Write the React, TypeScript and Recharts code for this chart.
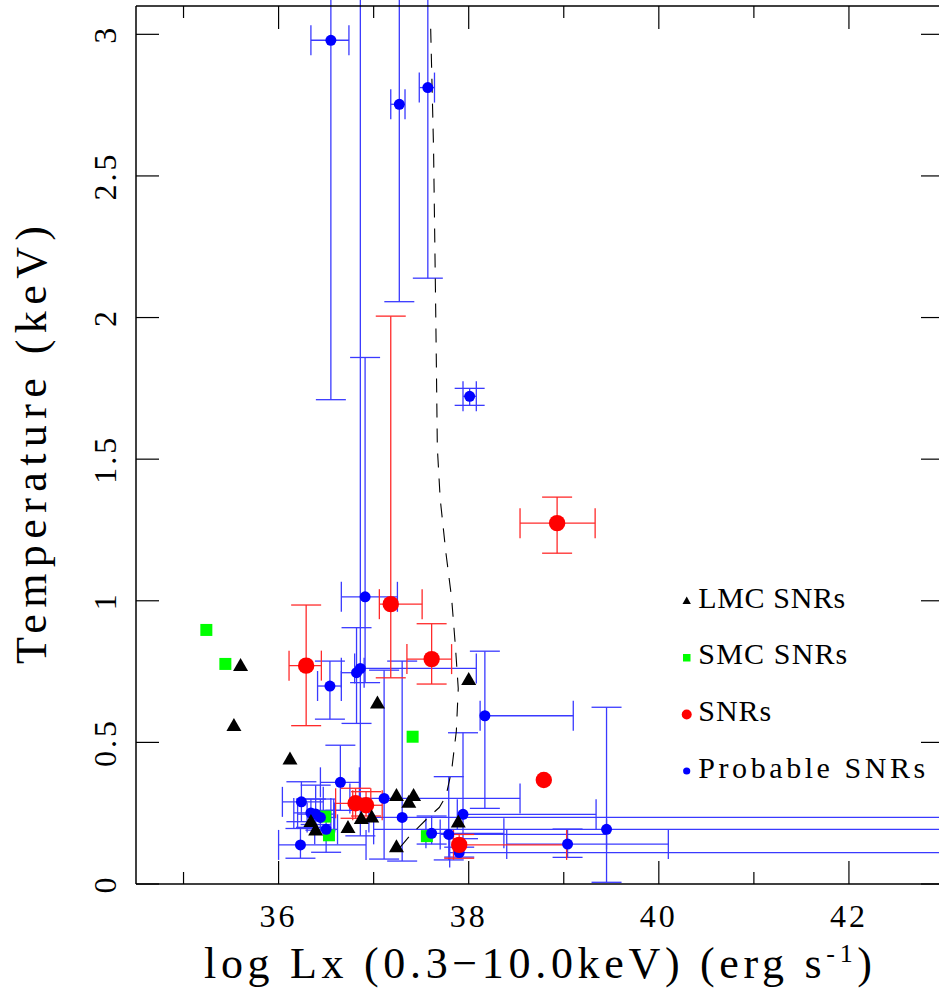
import React from "react";
import { ScatterChart, Scatter, XAxis, YAxis, ErrorBar, Legend } from "recharts";

const X_TICKS = [35, 36, 37, 38, 39, 40, 41, 42];
const Y_TICKS = [0, 0.5, 1, 1.5, 2, 2.5, 3];

// [log Lx, kT]
const LMC = [
  [35.6, 0.773], [35.53, 0.561], [36.12, 0.443], [37.04, 0.641], [38.0, 0.724],
  [36.34, 0.222], [36.39, 0.192], [36.73, 0.201], [36.87, 0.233], [36.98, 0.238],
  [37.24, 0.314], [37.37, 0.29], [37.42, 0.314], [37.24, 0.133], [37.89, 0.221],
];
const SMC = [
  [35.24, 0.897], [35.44, 0.777], [37.41, 0.52], [36.49, 0.238], [36.53, 0.172], [37.56, 0.169],
];
// [log Lx, kT, Lx low, Lx high, kT low, kT high]
const SNR = [
  [36.29, 0.771, 36.11, 36.45, 0.559, 0.985],
  [37.18, 0.988, 37.06, 37.51, 0.728, 2.005],
  [37.61, 0.794, 37.35, 37.82, 0.706, 0.919],
  [38.93, 1.274, 38.54, 39.33, 1.168, 1.366],
  [36.81, 0.285, 36.6, 36.97, 0.232, 0.338],
  [36.92, 0.278, 36.78, 37.09, 0.24, 0.326],
  [37.9, 0.138, 37.84, 39.03, 0.091, 0.175],
];
const SNR_NO_ERR = [[38.79, 0.367]];
const PROBABLE = [
  [36.55, 2.979, 36.34, 36.74, 1.71, 3.6],
  [37.27, 2.753, 37.18, 37.33, 2.056, 3.6],
  [37.57, 2.812, 37.48, 37.64, 2.139, 3.6],
  [38.01, 1.722, 37.94, 38.08, 1.69, 1.75],
  [36.91, 1.014, 36.66, 37.25, 0.711, 1.859],
  [36.82, 0.746, 36.66, 36.9, 0.567, 0.905],
  [36.86, 0.761, 36.8, 38.08, 0.17, 3.6],
  [36.54, 0.699, 36.41, 36.66, 0.582, 0.787],
  [38.17, 0.594, 38.12, 39.1, 0.267, 0.822],
  [36.65, 0.359, 36.44, 36.85, 0.26, 0.49],
  [36.24, 0.29, 36.04, 36.47, 0.22, 0.361],
  [36.34, 0.251, 36.16, 36.55, 0.2, 0.3],
  [36.39, 0.247, 36.2, 36.58, 0.21, 0.349],
  [36.44, 0.235, 36.3, 36.59, 0.19, 0.3],
  [36.5, 0.193, 36.38, 36.62, 0.112, 0.26],
  [36.23, 0.138, 36.0, 36.92, 0.091, 0.196],
  [37.11, 0.302, 36.75, 38.54, 0.088, 0.755],
  [37.3, 0.235, 36.95, 45, 0.081, 0.787],
  [37.61, 0.179, 37.55, 38.37, 0.141, 0.24],
  [37.79, 0.175, 37.7, 39.45, 0.085, 0.379],
  [37.94, 0.246, 37.88, 39.34, 0.16, 0.534],
  [37.9, 0.111, 37.8, 45, 0.095, 0.13],
  [39.04, 0.141, 38.4, 40.1, 0.094, 0.194],
  [39.45, 0.193, 37.0, 45, 0.006, 0.624],
];
// dashed model curve
const MODEL = [
  [37.6, 3.02], [37.63, 2.6], [37.65, 2.1], [37.66, 1.83], [37.67, 1.54], [37.7, 1.36],
  [37.76, 1.17], [37.82, 1.01], [37.86, 0.84], [37.89, 0.69], [37.87, 0.54], [37.82, 0.4],
  [37.76, 0.31], [37.69, 0.27], [37.59, 0.24], [37.47, 0.2], [37.38, 0.17], [37.23, 0.11],
];
const LEGEND_LABELS = ["LMC SNRs", "SMC SNRs", "SNRs", "Probable SNRs"];
const LEGEND_WIDTHS = [147, 149, 73, 227];

const FONT = "'Liberation Serif', 'Times New Roman', serif";
const BLUE_BAR = "#3a3aff";
const RED_BAR = "#ff2a2a";

const pts = (rows) => rows.map(([x, y]) => ({ x, y }));
const errPts = (rows) =>
  rows.map(([x, y, xl, xh, yl, yh]) => ({ x, y, ex: [x - xl, xh - x], ey: [y - yl, yh - y] }));

const Tri = ({ cx, cy }) => (
  <polygon points={`${cx},${cy - 7} ${cx - 7.5},${cy + 6} ${cx + 7.5},${cy + 6}`} fill="#000" />
);
const Sq = ({ cx, cy }) => <rect x={cx - 6} y={cy - 6} width={12} height={12} fill="#00ff00" />;
const BlueDot = ({ cx, cy }) => <circle cx={cx} cy={cy} r={5.5} fill="#0000ff" />;
const RedDot = ({ cx, cy }) => <circle cx={cx} cy={cy} r={8.2} fill="#ff0000" />;
const NoDot = () => <g />;

const fmt = (v) => String(v);

const BottomTick = ({ x, y, payload }) => {
  const major = payload.value % 2 === 0;
  return (
    <g>
      <line x1={x} x2={x} y1={y} y2={y - (major ? 23 : 12)} stroke="#000" strokeWidth={1.2} />
      {major && (
        <text x={x} y={y + 43} textAnchor="middle" fontFamily={FONT} fontSize={32} letterSpacing={3} fill="#000">
          {fmt(payload.value)}
        </text>
      )}
    </g>
  );
};
const TopTick = ({ x, y, payload }) => {
  const major = payload.value % 2 === 0;
  return <line x1={x} x2={x} y1={y} y2={y + (major ? 23 : 12)} stroke="#000" strokeWidth={1.2} />;
};
const LeftTick = ({ x, y, payload }) => (
  <g>
    <line x1={x} x2={x + 23} y1={y} y2={y} stroke="#000" strokeWidth={1.2} />
    <text
      x={x - 20}
      y={y}
      transform={`rotate(-90 ${x - 20} ${y})`}
      textAnchor="middle"
      fontFamily={FONT}
      fontSize={32}
      letterSpacing={3}
      fill="#000"
    >
      {fmt(payload.value)}
    </text>
  </g>
);
const RightTick = ({ x, y }) => <line x1={x} x2={x - 23} y1={y} y2={y} stroke="#000" strokeWidth={1.2} />;

const XTitle = (props) => {
  const vb = props.viewBox || {};
  const cx = vb.width ? vb.x + vb.width / 2 - 2 : 538;
  const base = vb.y != null ? vb.y + 94 : 978;
  return (
    <text
      x={cx}
      y={base}
      textAnchor="middle"
      fontFamily={FONT}
      fontSize={44}
      fill="#000"
      textLength={668}
      lengthAdjust="spacing"
    >
      log Lx (0.3−10.0keV) (erg s
      <tspan dy={-16} fontSize={26}>-1</tspan>
      <tspan dy={16}>)</tspan>
    </text>
  );
};
const YTitle = (props) => {
  const vb = props.viewBox || {};
  const cy = vb.height ? vb.y + vb.height / 2 : 445;
  return (
    <text
      x={46}
      y={cy}
      transform={`rotate(-90 46 ${cy})`}
      textAnchor="middle"
      fontFamily={FONT}
      fontSize={44}
      fill="#000"
      textLength={438}
      lengthAdjust="spacing"
    >
      Temperature (keV)
    </text>
  );
};

const LegendBox = () => {
  const markers = [
    <polygon key="t" points="26.7,21.5 22.5,29 30.9,29" fill="#000" />,
    <rect key="s" x={23} y={79} width={7.5} height={7.5} fill="#00ff00" />,
    <circle key="r" cx={26.7} cy={139.5} r={5} fill="#ff0000" />,
    <circle key="b" cx={26.7} cy={196} r={3.6} fill="#0000ff" />,
  ];
  return (
    <svg width={280} height={220}>
      {LEGEND_LABELS.map((label, i) => (
        <g key={label}>
          {markers[i]}
          <text
            x={38.3}
            y={32.7 + i * 56.7}
            fontFamily={FONT}
            fontSize={30}
            fill="#000"
            textLength={LEGEND_WIDTHS[i]}
            lengthAdjust="spacing"
          >
            {label}
          </text>
        </g>
      ))}
    </svg>
  );
};

export default function App() {
  const axisLine = { stroke: "#000", strokeWidth: 1.5 };
  return (
    <div style={{ position: "absolute", left: 0, top: 0, width: 939, height: 992, overflow: "hidden", background: "#fff" }}>
      <ScatterChart width={945} height={992} margin={{ top: 5, right: 0, bottom: 107, left: 135 }}>
        <XAxis
          dataKey="x"
          type="number"
          domain={[34.5, 43]}
          allowDataOverflow
          ticks={X_TICKS}
          interval={0}
          height={1}
          tickSize={0}
          tickMargin={0}
          tickLine={false}
          axisLine={axisLine}
          tick={BottomTick}
          label={{ content: XTitle }}
        />
        <XAxis
          xAxisId="top"
          orientation="top"
          dataKey="x"
          type="number"
          domain={[34.5, 43]}
          allowDataOverflow
          ticks={X_TICKS}
          interval={0}
          height={1}
          tickSize={0}
          tickMargin={0}
          tickLine={false}
          axisLine={axisLine}
          tick={TopTick}
        />
        <YAxis
          dataKey="y"
          type="number"
          domain={[0, 3.1]}
          allowDataOverflow
          ticks={Y_TICKS}
          interval={0}
          width={1}
          tickSize={0}
          tickMargin={0}
          tickLine={false}
          axisLine={axisLine}
          tick={LeftTick}
          label={{ content: YTitle }}
        />
        <YAxis
          yAxisId="right"
          orientation="right"
          dataKey="y"
          type="number"
          domain={[0, 3.1]}
          allowDataOverflow
          ticks={Y_TICKS}
          interval={0}
          width={1}
          tickSize={0}
          tickMargin={0}
          tickLine={false}
          axisLine={axisLine}
          tick={RightTick}
        />
        <Legend
          layout="vertical"
          align="center"
          verticalAlign="middle"
          wrapperStyle={{ left: 660, top: 575, width: 280, height: 220 }}
          content={LegendBox}
        />
        <Scatter
          name="model"
          data={pts(MODEL)}
          line={{ stroke: "#000", strokeWidth: 1.1, strokeDasharray: "14 11" }}
          shape={NoDot}
          legendType="none"
          isAnimationActive={false}
        />
        <Scatter name="SMC SNRs" data={pts(SMC)} shape={Sq} isAnimationActive={false} />
        <Scatter name="Probable SNRs" data={errPts(PROBABLE)} shape={BlueDot} isAnimationActive={false}>
          <ErrorBar dataKey="ex" direction="x" width={15} stroke={BLUE_BAR} strokeWidth={1.3} />
          <ErrorBar dataKey="ey" direction="y" width={15} stroke={BLUE_BAR} strokeWidth={1.3} />
        </Scatter>
        <Scatter name="SNRs" data={errPts(SNR)} shape={RedDot} isAnimationActive={false}>
          <ErrorBar dataKey="ex" direction="x" width={15} stroke={RED_BAR} strokeWidth={1.3} />
          <ErrorBar dataKey="ey" direction="y" width={15} stroke={RED_BAR} strokeWidth={1.3} />
        </Scatter>
        <Scatter name="SNRs " data={pts(SNR_NO_ERR)} shape={RedDot} isAnimationActive={false} />
        <Scatter name="LMC SNRs" data={pts(LMC)} shape={Tri} isAnimationActive={false} />
      </ScatterChart>
    </div>
  );
}
